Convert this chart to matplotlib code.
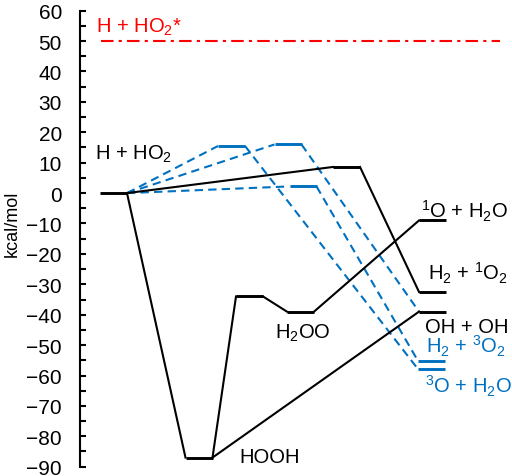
"""
Energy diagram for the H + HO2 system (singlet and triplet paths).
"""

import matplotlib
matplotlib.use("Agg")
import matplotlib.pyplot as plt
from matplotlib.ticker import MultipleLocator

# -------------------------------------------------------------------------
# Data: stationary point energies (kcal/mol)
# -------------------------------------------------------------------------
singlet_names = ["H + HO2", "HOOH", "TS1", "H2OO", "1O + H2O", "OH + OH", "TS2", "H2 + 1O2"]
singlet_energy = [0.0, -87.0, -34.0, -39.0, -9.0, -39.0, 8.6, -32.5]

triplet_names = ["TSa", "TSb", "TSc", "H2 + 3O2", "3O + H2O"]
triplet_energy = [15.5, 16.0, 2.2, -55.2, -57.9]

excited_energy = 50.0  # H + HO2*

singlet_paths = [("H + HO2", "HOOH"), ("HOOH", "TS1"), ("TS1", "H2OO"),
                 ("H2OO", "1O + H2O"), ("HOOH", "OH + OH"),
                 ("H + HO2", "TS2"), ("TS2", "H2 + 1O2")]
triplet_paths = [("H + HO2", "TSa"), ("TSa", "3O + H2O"),
                 ("H + HO2", "TSb"), ("TSb", "OH + OH"),
                 ("H + HO2", "TSc"), ("TSc", "H2 + 3O2")]

# -------------------------------------------------------------------------
# Layout: reaction coordinate positions (level centres) and labels
# -------------------------------------------------------------------------
x_center = {"H + HO2": 33.5, "HOOH": 119, "TS1": 169.5, "H2OO": 220.5,
            "1O + H2O": 352.5, "OH + OH": 352.5, "TS2": 266.5, "H2 + 1O2": 352.5,
            "TSa": 151.5, "TSb": 208, "TSc": 223,
            "H2 + 3O2": 351.5, "3O + H2O": 351.5}
HALF = 13.5

BLACK = "black"
BLUE = "#0070C0"
RED = "#FF0000"

labels = [
    ("H + HO$_2$*", 16, 53.2, RED),
    ("H + HO$_2$", 15, 11.4, BLACK),
    ("$^1$O + H$_2$O", 341, -8.0, BLACK),
    ("H$_2$ + $^1$O$_2$", 348, -28.3, BLACK),
    ("H$_2$OO", 195, -47.7, BLACK),
    ("OH + OH", 345, -45.6, BLACK),
    ("H$_2$ + $^3$O$_2$", 346.5, -52.4, BLUE),
    ("$^3$O + H$_2$O", 345, -65.6, BLUE),
    ("HOOH", 159.5, -88.3, BLACK),
]

plt.rcParams["font.family"] = ["Liberation Sans", "DejaVu Sans"]
plt.rcParams["mathtext.default"] = "regular"


def draw_levels(ax, energies, color):
    """Horizontal bars for each stationary point."""
    for name, e in energies.items():
        xc = x_center[name]
        ax.plot([xc - HALF, xc + HALF], [e, e], color=color, lw=2.1,
                solid_capstyle="butt", zorder=3)


def draw_paths(ax, paths, energies, color, dashed=False):
    """Connect right end of one level to left end of the next."""
    for a, b in paths:
        xa, xb = x_center[a] + HALF, x_center[b] - HALF
        kw = dict(color=color, lw=1.5, zorder=2)
        if dashed:
            kw["dashes"] = (4, 2.5)
        ax.plot([xa, xb], [energies[a], energies[b]], **kw)


fig = plt.figure(figsize=(5.12, 4.77), dpi=100)
ax = fig.add_axes([80 / 512, 9.3 / 477, 430 / 512, 456 / 477])

singlet = dict(zip(singlet_names, singlet_energy))
triplet = dict(zip(triplet_names, triplet_energy))
all_levels = {**singlet, **triplet}

# excited asymptote
ax.plot([21, 420], [excited_energy, excited_energy], color=RED, lw=1.5,
        dashes=(6, 2.5, 1.5, 2.5))

draw_paths(ax, triplet_paths, all_levels, BLUE, dashed=True)
draw_paths(ax, singlet_paths, all_levels, BLACK)
draw_levels(ax, triplet, BLUE)
draw_levels(ax, singlet, BLACK)

for text, x, y, c in labels:
    ax.text(x, y, text, color=c, fontsize=14.5, ha="left", va="baseline",
            clip_on=False)

# --- Axes styling ---
ax.set_xlim(0, 430)
ax.set_ylim(-90, 60)
for side in ("top", "right", "bottom"):
    ax.spines[side].set_visible(False)
ax.spines["left"].set_linewidth(1.5)
ax.set_xticks([])
ax.yaxis.set_major_locator(MultipleLocator(10))
ax.yaxis.set_minor_locator(MultipleLocator(5))
ax.tick_params(axis="y", which="both", direction="in", length=4.5, width=1.5,
               labelsize=15, pad=13)

fig.text(12 / 512, 1 - 224 / 477, "kcal/mol", rotation=90, fontsize=13,
         ha="center", va="center")

fig.savefig("out.png", dpi=100)
plt.close(fig)
